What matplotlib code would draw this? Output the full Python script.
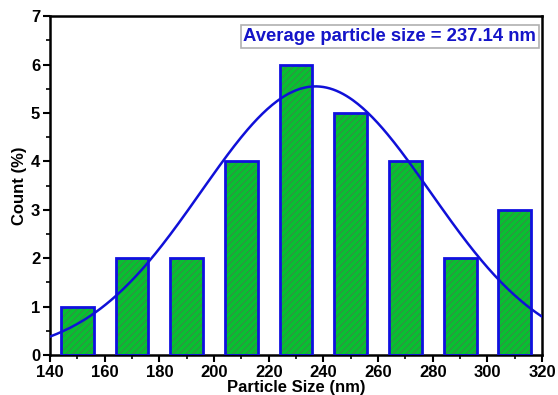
import numpy as np
import matplotlib.pyplot as plt
from matplotlib.ticker import MultipleLocator

plt.rcParams['font.family'] = ['Liberation Sans', 'DejaVu Sans']
plt.rcParams['font.weight'] = 'bold'
plt.rcParams['hatch.linewidth'] = 0.7

# data
bin_centers = [150, 170, 190, 210, 230, 250, 270, 290, 310]
counts = [1, 2, 2, 4, 6, 5, 4, 2, 3]
mean_size = 237.14
sigma = 42.0
peak = 5.55

fig = plt.figure(figsize=(5.58, 3.95), dpi=100)
ax = fig.add_axes([0.0896, 0.101, 0.882, 0.858])

# green fill with darker hatching, then blue outline on top
ax.bar(bin_centers, counts, width=12, color='#08c030', edgecolor='#3a8a48',
       hatch='/////', linewidth=0, zorder=2)
ax.bar(bin_centers, counts, width=12, fill=False, edgecolor='#1010e0',
       linewidth=2, zorder=3)

xs = np.linspace(140, 320, 300)
ax.plot(xs, peak * np.exp(-(xs - mean_size) ** 2 / (2 * sigma ** 2)),
        color='#1010d8', lw=1.8, zorder=4)

ax.set_xlim(140, 320)
ax.set_ylim(0, 7)
ax.xaxis.set_major_locator(MultipleLocator(20))
ax.xaxis.set_minor_locator(MultipleLocator(10))
ax.yaxis.set_major_locator(MultipleLocator(1))
ax.yaxis.set_minor_locator(MultipleLocator(0.5))
ax.tick_params(which='major', direction='out', length=5, width=1.5, labelsize=12, pad=2)
ax.tick_params(which='minor', direction='out', length=3, width=1.2)
for s in ax.spines.values():
    s.set_linewidth(1.8)

ax.set_xlabel('Particle Size (nm)', fontsize=12, fontweight='bold', labelpad=0)
ax.set_ylabel('Count (%)', fontsize=12, fontweight='bold', labelpad=3)

ax.text(0.988, 0.94, 'Average particle size = 237.14 nm', transform=ax.transAxes,
        ha='right', va='center', fontsize=13.3, fontweight='bold', color='#1414c8',
        bbox=dict(boxstyle='square,pad=0.15', facecolor='white', edgecolor='#b0b0b0', lw=1.2),
        zorder=5)

fig.savefig('out.png', dpi=100)
